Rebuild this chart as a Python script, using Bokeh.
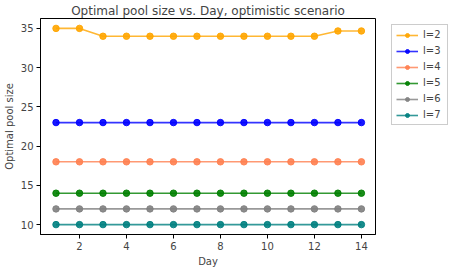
from bokeh.plotting import figure
from bokeh.models import Legend, LegendItem, Range1d, FixedTicker
from bokeh.embed import file_html
from bokeh.resources import INLINE

days = list(range(1, 15))
labels = ["l=2", "l=3", "l=4", "l=5", "l=6", "l=7"]
l2 = [35, 35, 34, 34, 34, 34, 34, 34, 34, 34, 34, 34, 34.67, 34.67]
l3 = [23] * 14
l4 = [18] * 14
l5 = [14] * 14
l6 = [12] * 14
l7 = [10] * 14
series = [l2, l3, l4, l5, l6, l7]
colors = ["orange", "blue", "coral", "green", "grey", "teal"]

FONT = "DejaVu Sans"
p = figure(frame_width=335, frame_height=216, output_backend="svg", toolbar_location=None,
           title="Optimal pool size vs. Day, optimistic scenario",
           x_range=Range1d(0.34, 14.6), y_range=Range1d(8.74, 36.26),
           min_border_left=33, min_border_top=14, min_border_bottom=10, min_border_right=0)
p.title.text_font = FONT
p.title.text_font_size = "12px"
p.title.text_font_style = "normal"
p.title.align = "center"
p.title.offset = 0
p.title.standoff = 2
p.xgrid.visible = False
p.ygrid.visible = False
p.outline_line_color = "black"
p.outline_line_alpha = 1
p.xaxis.axis_label = "Day"
p.yaxis.axis_label = "Optimal pool size"
p.xaxis.ticker = FixedTicker(ticks=[2, 4, 6, 8, 10, 12, 14])
p.yaxis.ticker = FixedTicker(ticks=[10, 15, 20, 25, 30, 35])
for ax in (p.xaxis[0], p.yaxis[0]):
    ax.axis_label_text_font = FONT
    ax.axis_label_text_font_size = "10px"
    ax.axis_label_text_font_style = "normal"
    ax.major_label_text_font = FONT
    ax.major_label_text_font_size = "10px"
    ax.minor_tick_line_color = None
    ax.major_tick_out = 4
    ax.major_tick_in = 0
    ax.major_label_standoff = 3
    ax.axis_label_standoff = 3
    ax.axis_line_color = "black"

items = []
for lab, ys, c in zip(labels, series, colors):
    r1 = p.line(days, ys, line_color=c, line_width=1.6, line_alpha=0.8)
    r2 = p.scatter(days, ys, size=6.5, fill_color=c, line_color=c, fill_alpha=0.9, line_alpha=0.9)
    items.append(LegendItem(label=lab, renderers=[r1, r2]))

leg = Legend(items=items, location=(16, 109), label_text_font=FONT, label_text_font_size="10px",
             glyph_width=22, glyph_height=10, label_height=10, spacing=5, padding=4,
             margin=0, border_line_color="#cccccc", border_line_alpha=1,
             label_standoff=5)
p.add_layout(leg, "right")

open("out.html", "w").write(file_html(p, INLINE))
